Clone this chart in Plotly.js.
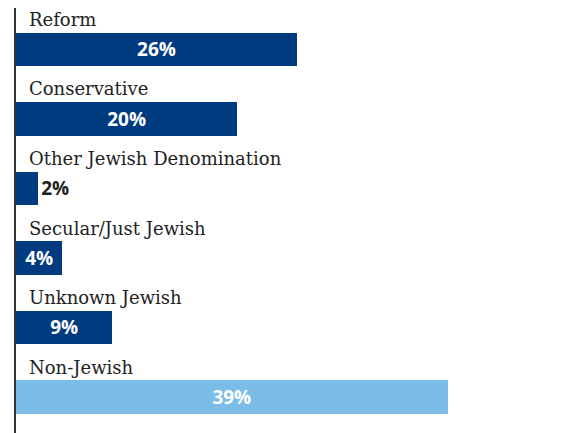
<!DOCTYPE html>
<html>
<head>
<meta charset="utf-8">
<script src="https://cdn.plot.ly/plotly-3.0.1.min.js"></script>
<style>html,body{margin:0;padding:0;background:#fff;}#chart{width:564px;height:433px;}</style>
</head>
<body>
<div id="chart"></div>
<script>
var categories = ["Reform", "Conservative", "Other Jewish Denomination", "Secular/Just Jewish", "Unknown Jewish", "Non-Jewish"];
var values = [25.4, 20, 2, 4.2, 8.7, 39];
var valueLabels = ["26%", "20%", "2%", "4%", "9%", "39%"];
var barColors = ["#003b80", "#003b80", "#003b80", "#003b80", "#003b80", "#7cbce8"];

var trace = {
  type: "bar",
  orientation: "h",
  y: categories,
  x: values,
  text: valueLabels,
  textposition: "auto",
  insidetextanchor: "middle",
  insidetextfont: {family: "Open Sans", size: 19, color: "#ffffff", weight: 700},
  outsidetextfont: {family: "Open Sans", size: 19, color: "#222222", weight: 700},
  marker: {color: barColors},
  width: 0.475,
  hoverinfo: "none",
  cliponaxis: false
};

var annotations = categories.map(function (c) {
  return {
    x: 0, y: c, xref: "x", yref: "y",
    text: c, showarrow: false,
    xanchor: "left", yanchor: "middle",
    xshift: 11, yshift: 30,
    font: {family: "DejaVu Serif", size: 18, color: "#222222"}
  };
});

var layout = {
  width: 564, height: 433,
  margin: {l: 16, r: 50, t: 8, b: 0},
  paper_bgcolor: "#ffffff", plot_bgcolor: "#ffffff",
  showlegend: false,
  bargap: 0,
  xaxis: {range: [0, 45], visible: false, fixedrange: true},
  yaxis: {
    type: "category",
    range: [5.518, -0.597],
    showticklabels: false, ticks: "",
    showgrid: false, zeroline: false,
    showline: true, linecolor: "#333333", linewidth: 2
  },
  annotations: annotations
};

Plotly.newPlot("chart", [trace], layout, {displayModeBar: false, staticPlot: true});
</script>
</body>
</html>
